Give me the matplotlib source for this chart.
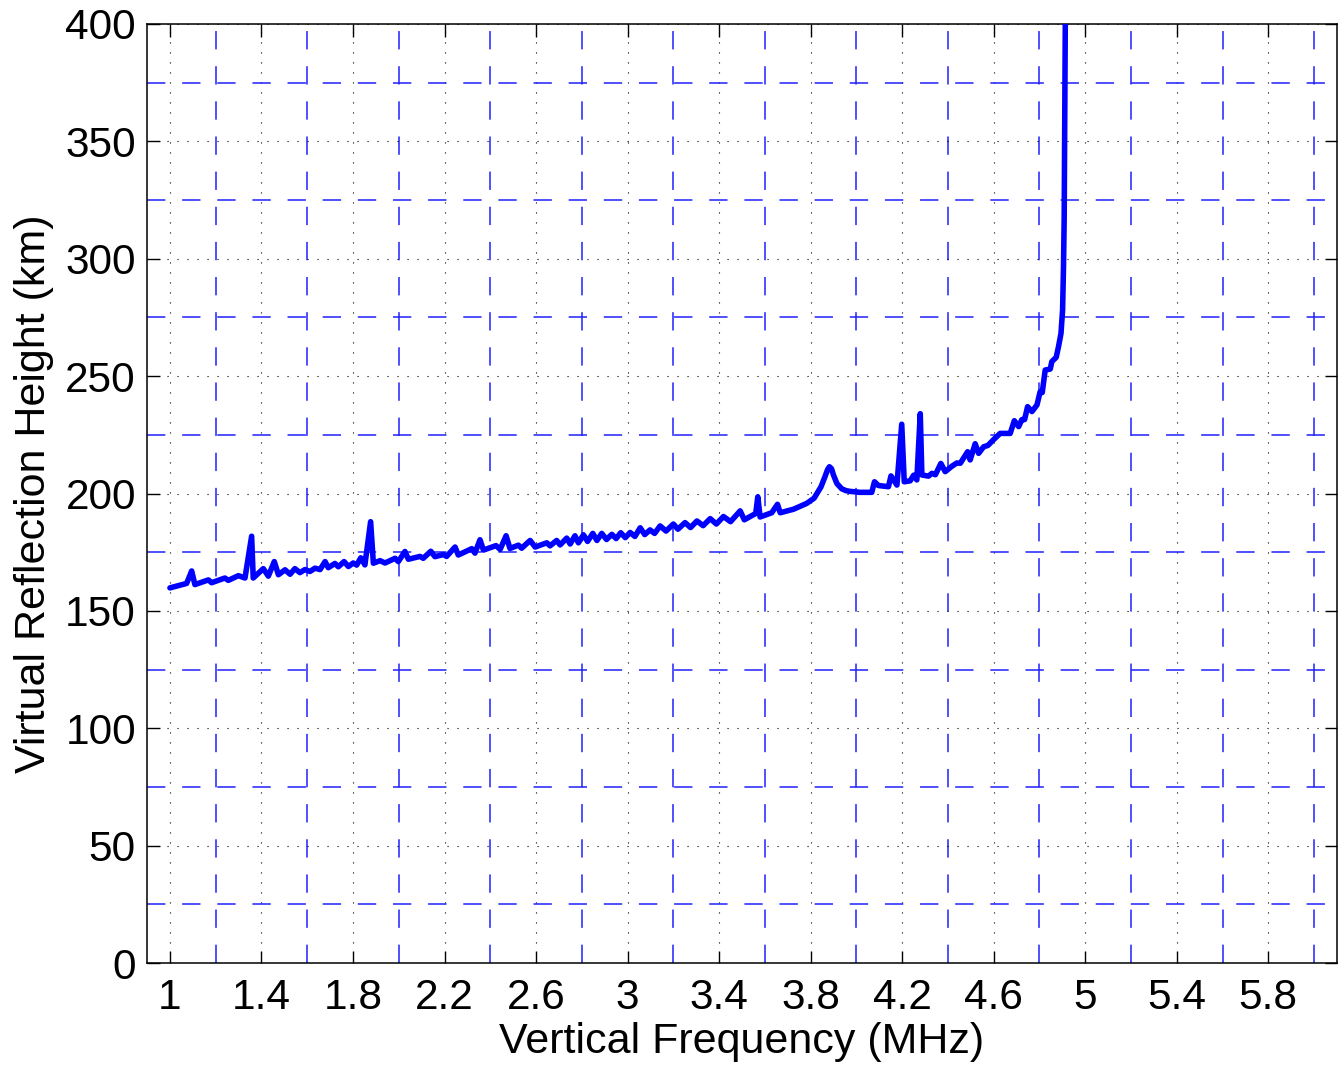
import numpy as np
import matplotlib
matplotlib.use("Agg")
import matplotlib.pyplot as plt
from matplotlib.ticker import FixedLocator

plt.rcParams['font.family'] = ['Liberation Sans', 'DejaVu Sans']

# ---- data (frequency MHz, virtual height km) ----
freq = [1.000, 1.073, 1.095, 1.109, 1.168, 1.182, 1.240, 1.255, 1.299, 1.328,
        1.357, 1.364, 1.408, 1.430, 1.456, 1.474, 1.503, 1.525, 1.546, 1.568,
        1.590, 1.612, 1.634, 1.656, 1.678, 1.692, 1.721, 1.736, 1.761, 1.780,
        1.801, 1.816, 1.834, 1.852, 1.877, 1.889, 1.918, 1.940, 1.984, 1.998,
        2.027, 2.042, 2.093, 2.107, 2.140, 2.158, 2.195, 2.209, 2.246, 2.260,
        2.319, 2.333, 2.355, 2.370, 2.425, 2.443, 2.469, 2.486, 2.523, 2.537,
        2.574, 2.596, 2.647, 2.661, 2.690, 2.705, 2.734, 2.749, 2.770, 2.785,
        2.807, 2.825, 2.848, 2.866, 2.887, 2.908, 2.931, 2.950, 2.970, 2.990,
        3.011, 3.032, 3.055, 3.075, 3.098, 3.118, 3.142, 3.168, 3.200, 3.220,
        3.251, 3.275, 3.303, 3.330, 3.361, 3.388, 3.419, 3.450, 3.492, 3.510,
        3.560, 3.569, 3.579, 3.630, 3.655, 3.667, 3.725, 3.783, 3.815, 3.845,
        3.862, 3.874, 3.882, 3.891, 3.900, 3.915, 3.936, 3.955, 3.973, 4.016,
        4.067, 4.079, 4.096, 4.140, 4.151,
        4.177, 4.198, 4.209, 4.235, 4.250, 4.264, 4.279, 4.286, 4.315, 4.330,
        4.345, 4.369, 4.388, 4.417, 4.439, 4.454, 4.486, 4.497, 4.519, 4.534,
        4.556, 4.575, 4.600, 4.628, 4.672, 4.690, 4.709, 4.723, 4.735, 4.748,
        4.767, 4.789, 4.803, 4.812, 4.825, 4.847, 4.854, 4.873, 4.883, 4.894,
        4.901, 4.905, 4.908, 4.913, 4.914]
height = [159.8, 161.7, 167.0, 161.2, 163.2, 162.0, 164.0, 163.0, 165.0, 164.0,
          181.8, 164.0, 168.0, 164.8, 171.0, 165.4, 167.5, 165.6, 168.0, 166.3,
          167.6, 166.8, 168.2, 167.6, 171.0, 168.4, 170.2, 168.8, 171.0, 168.9,
          170.4, 169.5, 172.6, 169.6, 188.0, 170.3, 171.4, 170.4, 172.4, 171.0,
          175.3, 172.0, 173.2, 172.4, 175.4, 173.1, 174.0, 173.2, 177.2, 173.8,
          176.5, 174.6, 180.3, 175.9, 177.8, 176.2, 182.0, 176.6, 178.0, 176.7,
          180.0, 177.2, 179.0, 177.7, 180.0, 178.1, 181.0, 178.5, 182.0, 179.0,
          182.4, 179.6, 183.0, 180.0, 183.0, 180.4, 182.6, 180.8, 183.3, 181.2,
          183.4, 181.7, 185.4, 182.5, 184.5, 183.0, 186.2, 184.0, 187.0, 184.8,
          187.6, 185.5, 188.3, 186.3, 189.3, 187.0, 190.2, 188.0, 192.6, 188.8,
          191.5, 198.6, 190.0, 191.8, 195.4, 191.8, 193.3, 195.8, 198.0, 202.8,
          207.0, 210.2, 211.4, 210.6, 207.8, 204.2, 202.0, 201.2, 200.9, 200.5,
          200.5, 205.0, 203.4, 202.9, 207.5,
          203.6, 229.5, 205.0, 205.4, 207.8, 205.8, 234.0, 207.9, 207.4, 208.6,
          208.0, 212.8, 209.3, 211.6, 213.0, 212.9, 217.8, 214.3, 221.2, 217.1,
          219.9, 220.5, 223.0, 225.6, 225.6, 231.0, 228.5, 231.5, 231.5, 237.0,
          234.9, 237.7, 243.4, 243.0, 252.6, 253.0, 256.2, 258.0, 262.5, 268.2,
          278.2, 296.6, 317.9, 399.6, 430.0]

xtick_vals = [1, 1.4, 1.8, 2.2, 2.6, 3, 3.4, 3.8, 4.2, 4.6, 5, 5.4, 5.8]
xtick_labels = ['1', '1.4', '1.8', '2.2', '2.6', '3', '3.4', '3.8', '4.2', '4.6', '5', '5.4', '5.8']
xminor_vals = [1.2, 1.6, 2.0, 2.4, 2.8, 3.2, 3.6, 4.0, 4.4, 4.8, 5.2, 5.6, 6.0]
ytick_vals = [0, 50, 100, 150, 200, 250, 300, 350, 400]
yminor_vals = [25, 75, 125, 175, 225, 275, 325, 375]

fig = plt.figure(figsize=(13.43, 10.66), dpi=100)
ax = fig.add_axes([0.1095, 0.0966, 0.886, 0.8809])

ax.set_xlim(0.9, 6.1)
ax.set_ylim(0, 400)

ax.xaxis.set_major_locator(FixedLocator(xtick_vals))
ax.set_xticklabels(xtick_labels)
ax.yaxis.set_major_locator(FixedLocator(ytick_vals))
ax.xaxis.set_minor_locator(FixedLocator(xminor_vals))
ax.yaxis.set_minor_locator(FixedLocator(yminor_vals))

ax.grid(which='major', color='black', linestyle=(0, (1, 8)), linewidth=0.8)
ax.grid(which='minor', color='#2020ff', linestyle=(0, (12, 11)), linewidth=1.1)
ax.set_axisbelow(True)

ax.plot(freq, height, color='blue', linewidth=4.0, solid_joinstyle='round',
        solid_capstyle='round', zorder=3)

ax.tick_params(which='major', direction='in', top=True, right=True,
               length=9, width=1.0, labelsize=30.5, pad=11)
ax.tick_params(axis='y', which='major', pad=8)
ax.tick_params(which='minor', length=0)
for s in ax.spines.values():
    s.set_linewidth(1.1)

ax.set_xlabel('Vertical Frequency (MHz)', fontsize=31, labelpad=3)
ax.set_ylabel('Virtual Reflection Height (km)', fontsize=31, labelpad=8)

fig.savefig('out.png', dpi=100)
